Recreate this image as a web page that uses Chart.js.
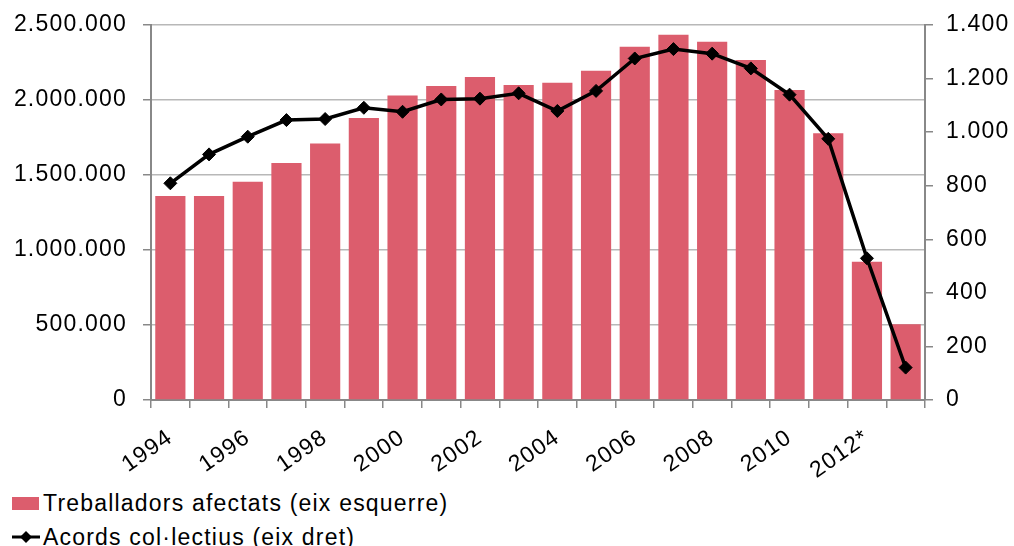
<!DOCTYPE html>
<html>
<head>
<meta charset="utf-8">
<script src="https://cdn.jsdelivr.net/npm/chart.js@4"></script>
<style>
  html, body { margin: 0; padding: 0; background: #fff; }
  #wrap { position: relative; width: 1014px; height: 546px; overflow: hidden; }
  #box { position: absolute; left: 0; top: 0; width: 1014px; height: 480px; }
  .legend { position: absolute; left: 12px; top: 486px; font: 23px "Liberation Sans", Arial, sans-serif;
            letter-spacing: 1.2px; color: #000; }
  .legend .row { display: flex; align-items: center; height: 34px; white-space: nowrap; }
  .legend .sw { width: 27px; height: 13px; background: #dc5d6d; margin-right: 4px; }
  .legend svg { margin-right: 3px; }
</style>
</head>
<body>
<div id="wrap">
  <div id="box"><canvas id="c"></canvas></div>
  <div class="legend">
    <div class="row"><span class="sw"></span>Treballadors afectats (eix esquerre)</div>
    <div class="row"><svg width="28" height="14"><line x1="0" y1="7" x2="28" y2="7" stroke="#000" stroke-width="3"/><path d="M14 1 L20 7 L14 13 L8 7 Z" fill="#000"/></svg>Acords col·lectius (eix dret)</div>
  </div>
</div>
<script>
// ---------- data ----------
const years = ["1994", "1995", "1996", "1997", "1998", "1999", "2000", "2001", "2002", "2003",
               "2004", "2005", "2006", "2007", "2008", "2009", "2010", "2011", "2012*", "2013*"];
const workers = [1360000, 1360000, 1455000, 1580000, 1710000, 1880000, 2030000, 2093000, 2153000, 2100000,
                 2115000, 2195000, 2355000, 2435000, 2389000, 2267000, 2067000, 1778000, 922000, 505000];
const agreements = [809, 917, 983, 1045, 1049, 1091, 1076, 1122, 1125, 1145,
                    1079, 1154, 1275, 1310, 1293, 1238, 1140, 975, 529, 121];
const leftTicks = [0, 500000, 1000000, 1500000, 2000000, 2500000];
const rightTicks = [0, 200, 400, 600, 800, 1000, 1200, 1400];

const BAR = "#dc5d6d";
const AXIS = "#888888";
const GRID = "#b8b8b8";
const FONT = { family: "'Liberation Sans', Arial, sans-serif", size: 23 };

function dots(n) {
  return String(n).replace(/\B(?=(\d{3})+(?!\d))/g, ".");
}

// fixed axis box, no extra padding from the tick labels
function fixY(width) {
  return s => { s.width = width; s.paddingTop = 0; s.paddingBottom = 0; };
}

// wider text like the original rendering
const spacing = {
  id: "spacing",
  beforeDraw(chart) { chart.ctx.letterSpacing = "1.2px"; },
};

new Chart(document.getElementById("c"), {
  data: {
    labels: years,
    datasets: [
      {
        type: "line",
        label: "Acords col·lectius (eix dret)",
        data: agreements,
        yAxisID: "y1",
        order: 0,
        borderColor: "#000",
        backgroundColor: "#000",
        borderWidth: 3.5,
        pointStyle: "rectRot",
        pointRadius: 6.5,
        pointBorderWidth: 1,
        tension: 0,
      },
      {
        type: "bar",
        label: "Treballadors afectats (eix esquerre)",
        data: workers,
        yAxisID: "y",
        order: 1,
        backgroundColor: BAR,
        categoryPercentage: 1,
        barPercentage: 0.78,
      },
    ],
  },
  options: {
    responsive: true,
    maintainAspectRatio: false,
    animation: false,
    layout: { padding: { top: 25, left: 0, right: 0, bottom: 0 } },
    plugins: { legend: { display: false }, tooltip: { enabled: false } },
    scales: {
      x: {
        offset: true,
        grid: { offset: true, drawOnChartArea: false, color: AXIS, lineWidth: 1.5, tickLength: 8 },
        border: { color: AXIS, width: 2 },
        ticks: {
          autoSkip: false, minRotation: 35, maxRotation: 35, padding: 16,
          color: "#000", font: FONT,
          callback: (v, i) => (i % 2 === 0 ? years[i] : ""),
        },
        afterFit: s => { s.height = 80; },
      },
      y: {
        position: "left",
        min: 0, max: 2500000,
        afterBuildTicks: s => { s.ticks = leftTicks.map(v => ({ value: v })); },
        grid: { color: GRID, lineWidth: 1.5, tickLength: 8, tickColor: AXIS },
        border: { color: AXIS, width: 2 },
        ticks: { color: "#000", font: FONT, padding: 16, callback: v => dots(v) },
        afterFit: fixY(151),
      },
      y1: {
        position: "right",
        min: 0, max: 1400,
        afterBuildTicks: s => { s.ticks = rightTicks.map(v => ({ value: v })); },
        grid: { drawOnChartArea: false, color: AXIS, lineWidth: 1.5, tickLength: 8 },
        border: { color: AXIS, width: 2 },
        ticks: { color: "#000", font: FONT, padding: 13, callback: v => dots(v) },
        afterFit: fixY(89),
      },
    },
  },
  plugins: [spacing],
});
</script>
</body>
</html>
